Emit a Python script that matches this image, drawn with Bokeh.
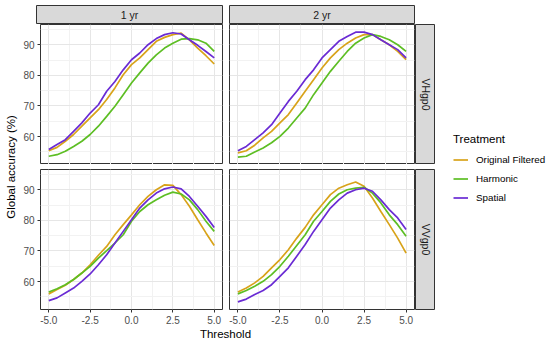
from bokeh.plotting import figure
from bokeh.layouts import row, column
from bokeh.models import (Range1d, FixedTicker, NumeralTickFormatter, Label, Legend,
                          LegendItem, Spacer, ColumnDataSource)
from bokeh.embed import file_html
from bokeh.resources import INLINE
import math

# ---------------- data ----------------
threshold = [-5.0, -4.5, -4.0, -3.5, -3.0, -2.5, -2.0, -1.5, -1.0, -0.5, 0.0,
             0.5, 1.0, 1.5, 2.0, 2.5, 3.0, 3.5, 4.0, 4.5, 5.0]

treatments = ["Original Filtered", "Harmonic", "Spatial"]
colors = ["#D8A31A", "#5DBE24", "#6A2BD4"]
col_labels = ["1 yr", "2 yr"]
row_labels = ["VHgp0", "VVgp0"]

# VHgp0, 1 yr
vh1_orig = [55.4, 56.5, 58.5, 60.7, 63.4, 66.1, 68.8, 72.1, 75.9, 80.2, 83.5,
            85.7, 88.4, 91.1, 92.4, 93.3, 93.8, 91.6, 88.9, 86.4, 83.7]
vh1_harm = [53.6, 54.1, 55.2, 56.8, 58.5, 60.7, 63.4, 66.6, 69.9, 73.7, 77.5,
            80.8, 84.0, 86.7, 88.9, 90.5, 91.8, 92.0, 91.6, 90.5, 87.8]
vh1_spat = [55.8, 57.4, 59.0, 61.7, 64.5, 67.7, 70.4, 74.8, 78.0, 81.8, 85.1,
            87.3, 90.0, 92.0, 93.3, 93.9, 93.5, 91.6, 89.8, 87.8, 85.7]
# VHgp0, 2 yr
vh2_orig = [54.7, 55.4, 57.2, 59.6, 61.7, 64.5, 67.2, 71.0, 74.8, 78.6, 82.4,
            85.7, 88.4, 90.5, 92.2, 93.3, 93.3, 91.6, 90.0, 87.8, 85.1]
vh2_harm = [53.3, 53.6, 55.0, 56.3, 58.0, 60.1, 62.8, 66.1, 69.3, 73.7, 77.5,
            81.3, 84.6, 87.8, 90.5, 92.2, 93.3, 92.7, 91.6, 90.0, 87.8]
vh2_spat = [55.4, 56.8, 59.0, 61.2, 63.9, 67.7, 71.5, 74.8, 78.6, 81.8, 85.7,
            88.4, 91.1, 92.7, 94.1, 94.1, 93.3, 91.6, 90.0, 88.4, 85.7]
# VVgp0, 1 yr
vv1_orig = [56.0, 57.4, 58.8, 60.7, 62.8, 65.5, 68.6, 71.5, 75.3, 78.6, 81.8,
            85.1, 87.8, 90.0, 91.6, 91.4, 88.4, 84.6, 80.2, 75.9, 71.8]
vv1_harm = [56.6, 57.7, 59.0, 60.7, 62.8, 65.0, 67.7, 70.1, 72.6, 75.3, 79.7,
            82.9, 85.1, 86.7, 88.2, 89.2, 88.6, 86.7, 83.5, 79.7, 76.4]
vv1_spat = [53.8, 54.7, 56.3, 57.9, 60.1, 62.5, 65.5, 68.8, 72.6, 76.4, 80.2,
            84.0, 86.7, 88.9, 90.3, 90.9, 90.3, 87.8, 84.6, 81.3, 77.7]
# VVgp0, 2 yr
vv2_orig = [56.6, 57.9, 59.6, 61.7, 64.5, 67.2, 70.4, 74.2, 77.7, 81.8, 85.1,
            88.4, 90.5, 91.6, 92.5, 91.1, 87.3, 82.9, 78.6, 74.2, 69.3]
vv2_harm = [56.0, 57.1, 58.5, 60.1, 62.3, 65.0, 68.3, 71.8, 75.3, 79.7, 82.9,
            86.2, 88.6, 90.0, 90.5, 90.8, 88.9, 85.7, 81.8, 78.6, 74.8]
vv2_spat = [53.4, 54.3, 55.8, 57.1, 59.0, 61.7, 64.5, 68.3, 72.1, 76.4, 80.2,
            84.0, 86.7, 88.9, 90.0, 90.5, 89.5, 86.7, 83.5, 80.8, 77.0]

panels = {
    (0, 0): [vh1_orig, vh1_harm, vh1_spat],
    (0, 1): [vh2_orig, vh2_harm, vh2_spat],
    (1, 0): [vv1_orig, vv1_harm, vv1_spat],
    (1, 1): [vv2_orig, vv2_harm, vv2_spat],
}

x_ticks = [-5.0, -2.5, 0.0, 2.5, 5.0]
x_minor = [-3.75, -1.25, 1.25, 3.75]
y_ticks = [60, 70, 80, 90]
y_minor = [55, 65, 75, 85, 95]

# ---------------- styling / geometry ----------------
FONT = "Liberation Sans"
X_RANGE = (-5.5, 5.5)
Y_RANGE = (50.9, 96.6)
FRAME_W = 186
FRAME_H = 140
LEFT_B = 16          # room for y tick labels
TOP_PAD = 5
STRIP = 19
RSTRIP = 20
AX_B = 18
XT_H = 13
YT_W = 20
LG_W = 115

# widths of the two panel columns: (left border, frame, right border)
COLS = [(LEFT_B, FRAME_W, 3), (4, FRAME_W - 1, 1)]


def base_fig(width, height, left, right, top, bottom, xr=None, yr=None,
             xaxis=False, yaxis=False):
    p = figure(width=width, height=height,
               x_range=Range1d(*(xr or X_RANGE)), y_range=Range1d(*(yr or Y_RANGE)),
               output_backend="svg", toolbar_location=None,
               x_axis_location="below" if xaxis else None,
               y_axis_location="left" if yaxis else None,
               min_border_left=left, min_border_right=right,
               min_border_top=top, min_border_bottom=bottom)
    p.border_fill_color = "white"
    p.background_fill_color = "white"
    p.outline_line_color = None
    return p


def style_panel(p, xaxis, yaxis):
    p.outline_line_color = "#333333"
    p.outline_line_width = 1
    p.xgrid.ticker = FixedTicker(ticks=x_ticks, minor_ticks=x_minor)
    p.ygrid.ticker = FixedTicker(ticks=y_ticks, minor_ticks=y_minor)
    for g in (p.xgrid, p.ygrid):
        g.grid_line_color = "#E6E6E6"
        g.grid_line_width = 1
        g.minor_grid_line_color = "#F2F2F2"
        g.minor_grid_line_width = 1
    axes = []
    if xaxis:
        p.xaxis.ticker = FixedTicker(ticks=x_ticks, minor_ticks=x_minor)
        p.xaxis.formatter = NumeralTickFormatter(format="0.0")
        axes.append(p.xaxis)
    if yaxis:
        p.yaxis.ticker = FixedTicker(ticks=y_ticks, minor_ticks=y_minor)
        axes.append(p.yaxis)
    for ax in axes:
        ax.axis_line_color = None
        ax.major_tick_line_color = "#333333"
        ax.major_tick_out = 3
        ax.major_tick_in = 0
        ax.minor_tick_line_color = None
        ax.major_label_text_font = FONT
        ax.major_label_text_font_size = "10px"
        ax.major_label_text_color = "#4D4D4D"
        ax.major_label_standoff = 2


def hide_grid(p):
    for g in p.xgrid + p.ygrid:
        g.visible = False


panel_figs = {}
for (r, c), series in panels.items():
    xaxis = (r == 1)
    yaxis = (c == 0)
    lb, fw, rb = COLS[c]
    top = 0 if r == 0 else 5
    bottom = AX_B if r == 1 else 0
    p = base_fig(lb + fw + rb, FRAME_H + top + bottom, lb, rb, top, bottom,
                 xaxis=xaxis, yaxis=yaxis)
    style_panel(p, xaxis, yaxis)
    src = ColumnDataSource(dict(x=threshold, orig=series[0], harm=series[1], spat=series[2]))
    for key, color in zip(["orig", "harm", "spat"], colors):
        p.line(x="x", y=key, source=src, line_color=color, line_width=1.7)
    panel_figs[(r, c)] = p

# top strips
top_strips = []
for c, lab in enumerate(col_labels):
    lb, fw, rb = COLS[c]
    s = base_fig(lb + fw + rb, TOP_PAD + STRIP, lb, rb, TOP_PAD, 0, xr=(0, 1), yr=(0, 1))
    hide_grid(s)
    s.background_fill_color = "#D9D9D9"
    s.outline_line_color = "#333333"
    s.add_layout(Label(x=0.5, y=0.5, text=lab, text_align="center", text_baseline="middle",
                       text_font=FONT, text_font_size="10.5px", text_color="#1A1A1A"))
    top_strips.append(s)

# right strips
right_strips = []
for r, lab in enumerate(row_labels):
    top = 0 if r == 0 else 5
    bottom = AX_B if r == 1 else 0
    s = base_fig(RSTRIP, FRAME_H + top + bottom, 0, 0, top, bottom, xr=(0, 1), yr=(0, 1))
    hide_grid(s)
    s.background_fill_color = "#D9D9D9"
    s.outline_line_color = "#333333"
    s.add_layout(Label(x=0.5, y=0.5, text=lab, text_align="center", text_baseline="middle",
                       angle=-math.pi / 2, text_font=FONT, text_font_size="10.5px",
                       text_color="#1A1A1A"))
    right_strips.append(s)

total_w = sum(sum(cw) for cw in COLS) + RSTRIP
xt = base_fig(total_w, XT_H, 0, 0, 0, 0, xr=(0, total_w), yr=(0, XT_H))
hide_grid(xt)
panels_left = COLS[0][0]
panels_right = sum(COLS[0]) + COLS[1][0] + COLS[1][1]
xt.add_layout(Label(x=(panels_left + panels_right) / 2, y=XT_H / 2, text="Threshold",
                    text_align="center", text_baseline="middle", text_font=FONT,
                    text_font_size="11.5px", text_color="black"))

panels_col = column(
    row(top_strips[0], top_strips[1], Spacer(width=RSTRIP, height=TOP_PAD + STRIP)),
    row(panel_figs[(0, 0)], panel_figs[(0, 1)], right_strips[0]),
    row(panel_figs[(1, 0)], panel_figs[(1, 1)], right_strips[1]),
    xt,
)
total_h = TOP_PAD + STRIP + FRAME_H + (5 + FRAME_H + AX_B) + XT_H

# y title
yt = base_fig(YT_W, total_h, 0, 0, 0, 0, xr=(0, YT_W), yr=(0, total_h))
hide_grid(yt)
y_center = total_h - (TOP_PAD + STRIP + (FRAME_H * 2 + 5) / 2)
yt.add_layout(Label(x=YT_W / 2, y=y_center, text="Global accuracy (%)", angle=math.pi / 2,
                    text_align="center", text_baseline="middle", text_font=FONT,
                    text_font_size="11.5px", text_color="black"))

# legend: keys are the real series drawn outside this figure's visible range
lg = base_fig(LG_W, total_h, 0, 0, 0, 0, xr=(100, 101), yr=(0, 1))
hide_grid(lg)
items = []
for name, color, ser in zip(treatments, colors, panels[(0, 0)]):
    rr = lg.line(x=threshold, y=ser, line_color=color, line_width=1.7)
    items.append(LegendItem(label=name, renderers=[rr]))
legend = Legend(items=items, title="Treatment", location=(18, 134),
                title_text_font=FONT, title_text_font_size="11.5px",
                title_text_color="black", title_text_font_style="normal",
                title_standoff=6,
                label_text_font=FONT, label_text_font_size="9.8px",
                label_text_color="black",
                glyph_width=15, glyph_height=17, label_height=17, label_standoff=8,
                spacing=2, padding=0, margin=0,
                border_line_color=None, background_fill_alpha=0)
lg.add_layout(legend)

p = row(yt, panels_col, lg)

open("out.html", "w").write(file_html(p, INLINE))
